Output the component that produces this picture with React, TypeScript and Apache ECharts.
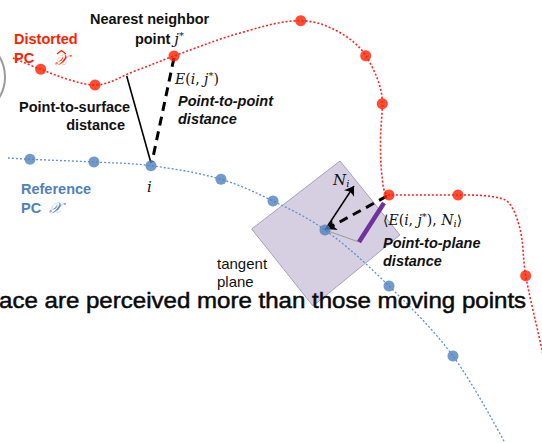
import React, { useEffect, useRef } from "react";
import * as echarts from "echarts";

// Distorted point cloud curve (path points) and its sampled points
const redCurve: number[][] = [
  [13, 58], [40.7, 69.3], [70, 80], [95, 85], [135, 71], [174, 56], [240, 33], [300.7, 20.7],
  [337, 31], [365.7, 55.7], [382.3, 103.7], [380.5, 140], [382, 176], [389, 195],
  [458, 195], [503, 199], [519, 225], [525.7, 275.7], [542, 350], [552, 400],
];
const redPoints: number[][] = [
  [40.7, 69.3], [95, 85], [174, 56], [300.7, 20.7], [365.7, 55.7], [382.3, 103.7],
  [389, 195], [458, 195], [525.7, 275.7],
];
// Reference point cloud curve and its points
const blueCurve: number[][] = [
  [8, 158], [30, 159.3], [94, 162], [151, 165.7], [221, 179.3], [273, 201], [325, 230],
  [389, 286], [453, 356], [505, 443],
];
const bluePoints: number[][] = [
  [30, 159.3], [94, 162], [151, 165.7], [221, 179.3], [273, 201], [325, 230], [389, 286], [453, 356],
];
// Tangent plane corners
const planeCorners: number[][] = [[340, 161], [400, 235], [313, 306], [251.7, 229]];
// Distance segments
const surfaceSeg: number[][] = [[126.7, 76], [151, 163]];
const pointSeg: number[][] = [[174, 58], [152, 162]];
const normalSeg: number[][] = [[325, 230], [354, 186]];
const planeDashSeg: number[][] = [[387, 196], [327, 229]];
const projSeg: number[][] = [[325, 230], [359, 242]];
const purpleSeg: number[][] = [[359, 242], [384, 203]];

const RED = "#ff1f00";
const BLUE = "#4f81bd";
const SANS = "Liberation Sans, Arial, sans-serif";
const SERIF = "DejaVu Serif, Liberation Serif, serif";

function txt(x: number, y: number, text: string, extra: any = {}, rich?: any, more: any = {}) {
  return {
    type: "text",
    x,
    y,
    z: 100,
    ...more,
    style: {
      text,
      fontFamily: SANS,
      fontSize: 14.5,
      fontWeight: "bold",
      fill: "#111",
      verticalAlign: "middle",
      align: "left",
      rich,
      ...extra,
    },
  };
}

const mathRich = {
  it: { fontFamily: SERIF, fontStyle: "italic", fontSize: 14, fill: "#111" },
  n: { fontFamily: SERIF, fontSize: 14, fill: "#111" },
  sup: { fontFamily: SERIF, fontStyle: "italic", fontSize: 10, fill: "#111", padding: [0, 0, 7, 0] },
  sub: { fontFamily: SERIF, fontStyle: "italic", fontSize: 10, fill: "#111", padding: [7, 0, 0, 0] },
};

export default function App() {
  const ref = useRef<HTMLDivElement>(null);
  useEffect(() => {
    if (!ref.current) return;
    const chart = echarts.init(ref.current, undefined, { renderer: "svg" });
    const segStyle = (color: string, width: number, type: any = "solid") => ({ color, width, type, opacity: 1, curveness: 0 });
    chart.setOption({
      animation: false,
      grid: { left: 0, right: 0, top: 0, bottom: 0 },
      xAxis: { type: "value", min: 0, max: 542, show: false },
      yAxis: { type: "value", min: 0, max: 443, inverse: true, show: false },
      series: [
        {
          type: "custom",
          z: 1,
          renderItem: (_p: any, api: any) => ({
            type: "polygon",
            shape: { points: planeCorners.map((c) => api.coord(c)) },
            style: { fill: "#d6cfe2", stroke: "#a8a1b5", lineWidth: 1 },
          }),
          data: [[0, 0]],
          silent: true,
        },
        {
          type: "line",
          z: 2,
          data: redCurve,
          smooth: 0.35,
          symbol: "none",
          lineStyle: { color: "#ff2020", width: 1.6, type: [2, 2] },
        },
        {
          type: "line",
          z: 2,
          data: blueCurve,
          smooth: 0.35,
          symbol: "none",
          lineStyle: { color: "#5b8fd0", width: 1.3, type: [2, 2] },
        },
        {
          type: "lines",
          coordinateSystem: "cartesian2d",
          z: 3,
          symbol: ["none", "none"],
          data: [
            { coords: surfaceSeg, lineStyle: segStyle("#000", 1.6) },
            { coords: pointSeg, lineStyle: segStyle("#000", 3, [9, 6]) },
            { coords: projSeg, lineStyle: segStyle("#999", 1) },
            { coords: purpleSeg, lineStyle: segStyle("#7030a0", 4.5) },
          ],
        },
        {
          type: "lines",
          coordinateSystem: "cartesian2d",
          z: 3,
          symbol: ["none", "arrow"],
          symbolSize: 9,
          data: [
            { coords: normalSeg, lineStyle: segStyle("#000", 1.5) },
            { coords: planeDashSeg, lineStyle: segStyle("#000", 3, [9, 6]) },
          ],
        },
        {
          type: "scatter",
          z: 4,
          data: redPoints,
          symbolSize: 11,
          itemStyle: { color: RED },
        },
        {
          type: "scatter",
          z: 4,
          data: bluePoints,
          symbolSize: 11,
          itemStyle: { color: BLUE },
        },
      ],
      graphic: [
        {
          type: "arc",
          z: 100,
          shape: { cx: -35, cy: 77, r: 40, startAngle: -Math.PI / 3, endAngle: Math.PI / 3 },
          style: { stroke: "#9a9a9a", lineWidth: 2, fill: "none" },
        },
        txt(14, 39, "Distorted", { fill: RED }),
        txt(14, 58, "PC", { fill: RED }),
        txt(55, 60, "\u{1D4B3}", { fill: RED, fontFamily: SERIF, fontStyle: "italic", fontWeight: "normal", fontSize: 15 }),
        {
          type: "polyline",
          z: 100,
          shape: { points: [[57, 54], [61.5, 50.5], [66, 54]] },
          style: { stroke: RED, lineWidth: 1.2, fill: "none" },
        },
        txt(90, 19, "Nearest neighbor"),
        txt(184, 39, "point {it|j}{sup|*}", { align: "right" }, {
          it: { fontFamily: SERIF, fontStyle: "italic", fontSize: 15, fill: "#111" },
          sup: { fontFamily: SERIF, fontSize: 10, fill: "#111", padding: [0, 0, 8, 0] },
        }),
        txt(175, 79, "{it|E}{n|(}{it|i}{n|, }{it|j}{sup|*}{n|)}", { fontWeight: "normal" }, mathRich),
        txt(178, 101, "Point-to-point", { fontStyle: "italic" }),
        txt(178, 119, "distance", { fontStyle: "italic" }),
        txt(19, 107, "Point-to-surface"),
        txt(125, 125, "distance", { align: "right" }),
        txt(147, 187, "i", { fontFamily: SERIF, fontStyle: "italic", fontWeight: "normal", fontSize: 15 }),
        txt(21, 189, "Reference", { fill: BLUE }),
        txt(21, 208, "PC", { fill: BLUE }),
        txt(49, 208, "\u{1D4B3}", { fill: BLUE, fontFamily: SERIF, fontStyle: "italic", fontWeight: "normal", fontSize: 15 }),
        txt(217, 263, "tangent", { fontWeight: "normal", fontSize: 15 }),
        txt(217, 281, "plane", { fontWeight: "normal", fontSize: 15 }),
        txt(333, 180, "{it|N}{sub|i}", { fontWeight: "normal" }, {
          it: { fontFamily: SERIF, fontStyle: "italic", fontSize: 15, fill: "#111" },
          sub: { fontFamily: SERIF, fontStyle: "italic", fontSize: 10, fill: "#111", padding: [7, 0, 0, 0] },
        }),
        txt(383, 220, "{n|\u27E8}{it|E}{n|(}{it|i}{n|, }{it|j}{sup|*}{n|), }{it|N}{sub|i}{n|\u27E9}", { fontWeight: "normal" }, mathRich),
        txt(383, 243, "Point-to-plane", { fontStyle: "italic" }),
        txt(383, 261, "distance", { fontStyle: "italic" }),
        txt(-1, 300, "ace are perceived more than those moving points",
          { fontWeight: "normal", fontSize: 22, fill: "#0a0a0a", stroke: "#0a0a0a", lineWidth: 0.5 },
          undefined, { scaleX: 1.095 }),
      ],
    });
    return () => chart.dispose();
  }, []);
  return (
    <div
      ref={ref}
      style={{ position: "fixed", left: 0, top: 0, width: 542, height: 443, background: "#fff" }}
    />
  );
}
